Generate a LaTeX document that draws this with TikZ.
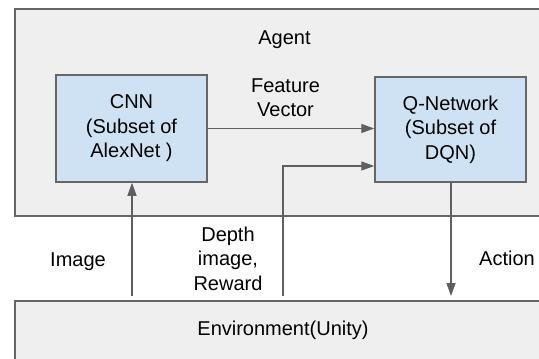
\documentclass[tikz,border=0pt]{standalone}
\usepackage{fontspec}
\setmainfont{Liberation Sans}
\usetikzlibrary{arrows.meta}
\definecolor{boxgray}{HTML}{EFEFEF}
\definecolor{boxblue}{HTML}{CFE2F3}
\definecolor{edgegray}{HTML}{666666}
\definecolor{linegray}{HTML}{5F5F5F}
\begin{document}
\begin{tikzpicture}[x=1pt,y=-1pt,
  every node/.style={font=\fontsize{20}{24.5}\selectfont, inner sep=0pt, text=black},
  bigbox/.style={draw=edgegray, fill=boxgray, line width=1.5pt},
  netbox/.style={draw=edgegray, fill=boxblue, line width=1.5pt, align=center},
  flow/.style={draw=linegray, line width=1.3pt, -{Triangle[length=13pt,width=9pt]}},
  lbl/.style={align=center}]
\useasboundingbox (0,0) rectangle (539,359);
\clip (0,0) rectangle (539,359);
\fill[white] (0,0) rectangle (539,359);
% containers
\node[bigbox, minimum width=539pt, minimum height=207pt] (agent) at (284.5,112.5) {};
\node[bigbox, minimum width=539pt, minimum height=80pt] (env) at (284.5,341) {};
% network boxes
\node[netbox, minimum width=151pt, minimum height=107pt] (cnn) at (131.5,128.5) {CNN\\(Subset of\\AlexNet )};
\node[netbox, minimum width=151pt, minimum height=105pt] (qnet) at (450.5,129.5) {Q-Network\\(Subset of\\DQN)};
% labels
\node[anchor=base] (agentlbl) at (284.5,44) {Agent};
\node[lbl, anchor=south] (fvlbl) at (285.5,117) {Feature\\Vector};
\node[anchor=base] (imglbl) at (78,266.7) {Image};
\node[lbl, anchor=south] (depthlbl) at (228,290.7) {Depth\\image,\\Reward};
\node[anchor=base] (actlbl) at (507,265.7) {Action};
\node[anchor=base] (envlbl) at (283,335) {Environment(Unity)};
% connectors
\coordinate (imgsrc) at (132,296);
\coordinate (depsrc) at (283,296);
\coordinate (depbend) at (283,166);
\coordinate (actdst) at (451,296);
\draw[flow] (imgsrc) -- (imgsrc |- cnn.south);
\draw[flow] (cnn.east) -- (qnet.west |- cnn.east);
\draw[flow] (depsrc) -- (depbend) -- (depbend -| qnet.west);
\draw[flow] (qnet.south -| actdst) -- (actdst);
\end{tikzpicture}
\end{document}
